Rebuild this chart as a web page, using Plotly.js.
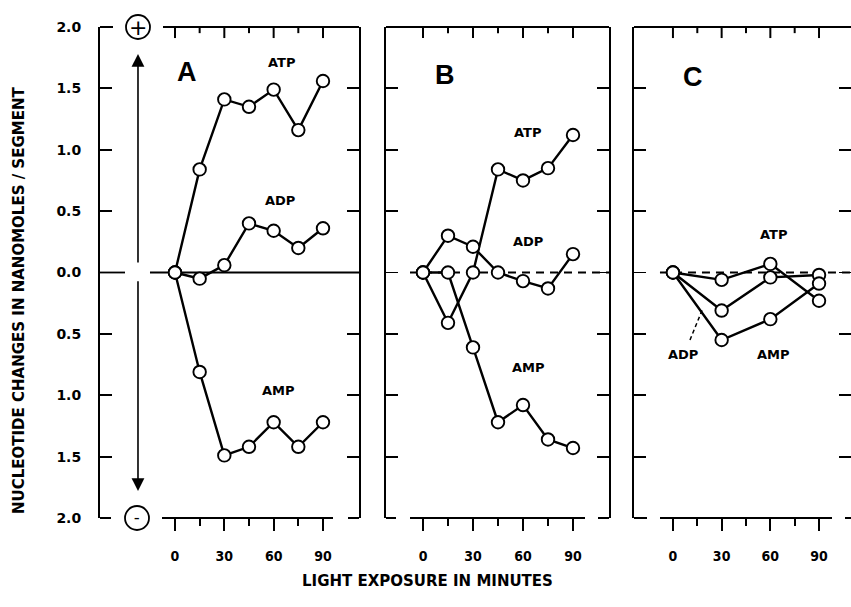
<!DOCTYPE html>
<html>
<head>
<meta charset="utf-8">
<script src="https://cdn.plot.ly/plotly-3.0.1.min.js"></script>
<style>
  html, body { margin: 0; padding: 0; background: #fff; }
  #chart { width: 851px; height: 607px; }
</style>
</head>
<body>
<div id="chart"></div>
<script>
// ---- data ----
const minutesAB = [0, 15, 30, 45, 60, 75, 90];
const minutesC = [0, 30, 60, 90];

const atpA = [0, 0.84, 1.41, 1.35, 1.49, 1.16, 1.56];
const adpA = [0, -0.05, 0.06, 0.40, 0.34, 0.20, 0.36];
const ampA = [0, -0.81, -1.49, -1.42, -1.22, -1.42, -1.22];

const atpB = [0, -0.41, 0.00, 0.84, 0.75, 0.85, 1.12];
const adpB = [0, 0.30, 0.21, 0.00, -0.07, -0.13, 0.15];
const ampB = [0, 0.00, -0.61, -1.22, -1.08, -1.36, -1.43];

const atpC = [0, -0.06, 0.07, -0.23];
const adpC = [0, -0.31, -0.04, -0.02];
const ampC = [0, -0.55, -0.38, -0.09];

const yTickVals = [-2, -1.5, -1, -0.5, 0, 0.5, 1, 1.5, 2];
const yTickText = ['2.0', '1.5', '1.0', '0.5', '0.0', '0.5', '1.0', '1.5', '2.0'];
const xTickVals = [0, 30, 60, 90];
const xTickText = ['0', '30', '60', '90'];
const xMinorVals = [15, 45, 75];

const panelLetters = ['A', 'B', 'C'];
const seriesNames = ['ATP', 'ADP', 'AMP'];
const xTitle = 'LIGHT EXPOSURE IN MINUTES';
const yTitle = 'NUCLEOTIDE CHANGES IN NANOMOLES / SEGMENT';

// ---- helpers ----
const W = 851, H = 607;
const px = v => v / W;
const py = v => 1 - v / H;

const lineStyle = { color: '#000', width: 2.4 };
const markerStyle = { symbol: 'circle', size: 12.5, color: '#fff', line: { color: '#000', width: 1.9 } };

function series(x, y, xa, ya, name) {
  return { x: x, y: y, xaxis: xa, yaxis: ya, name: name, type: 'scatter', mode: 'lines+markers',
           line: lineStyle, marker: markerStyle, showlegend: false, hoverinfo: 'skip', cliponaxis: false };
}

const data = [
  series(minutesAB, atpA, 'x', 'y', 'ATP'),
  series(minutesAB, adpA, 'x', 'y', 'ADP'),
  series(minutesAB, ampA, 'x', 'y', 'AMP'),
  series(minutesAB, atpB, 'x2', 'y2', 'ATP'),
  series(minutesAB, adpB, 'x2', 'y2', 'ADP'),
  series(minutesAB, ampB, 'x2', 'y2', 'AMP'),
  series(minutesC, atpC, 'x3', 'y3', 'ATP'),
  series(minutesC, adpC, 'x3', 'y3', 'ADP'),
  series(minutesC, ampC, 'x3', 'y3', 'AMP')
];

const tickFontY = { family: 'DejaVu Sans', size: 14, color: '#000', weight: 'bold' };
const tickFontX = { family: 'DejaVu Sans Condensed, DejaVu Sans', size: 14, color: '#000', weight: 'bold' };

const rangeA = [-45.6, 111.9];
const rangeB = [-22.2, 111.6];
const rangeC = [-24.0, 109.7];
const domA = [px(100), px(359)];
const domB = [px(386), px(609)];
const domC = [px(634), 1];
const domY = [py(518), py(27)];

function xBottom(range, dom, anchor) {
  return {
    domain: dom, range: range, anchor: anchor, showgrid: false, zeroline: false, showline: false,
    tickmode: 'array', tickvals: xTickVals, ticktext: xTickText,
    ticks: 'outside', ticklen: 12, tickwidth: 1.8, tickcolor: '#000',
    ticklabelstandoff: 13, tickfont: tickFontX,
    minor: { tickmode: 'array', tickvals: xMinorVals, ticks: 'outside', ticklen: 7, tickwidth: 1.8, tickcolor: '#000', showgrid: false },
    fixedrange: true
  };
}
function yAxis(anchor, labels) {
  return {
    domain: domY, range: [-2, 2], anchor: anchor, showgrid: false, zeroline: false,
    showline: true, linecolor: '#000', linewidth: 2, mirror: 'ticks',
    tickmode: 'array', tickvals: yTickVals, ticktext: yTickText, showticklabels: labels,
    ticks: 'inside', ticklen: 12, tickwidth: 1.8, tickcolor: '#000',
    ticklabelstandoff: 14, tickfont: tickFontY, fixedrange: true
  };
}

function seg(x0, y0, x1, y1) {
  return { type: 'line', xref: 'paper', yref: 'paper', x0: px(x0), y0: py(y0), x1: px(x1), y1: py(y1),
           line: { color: '#000', width: 2 } };
}

const shapes = [
  // panel A frame: top and bottom with gaps
  seg(100, 27, 113, 27), seg(163, 27, 359, 27),
  seg(100, 518, 111, 518), seg(162, 518, 333, 518), seg(348, 518, 359, 518),
  // panel B
  seg(386, 27, 609, 27),
  seg(386, 518, 396, 518), seg(410, 518, 585, 518), seg(598, 518, 609, 518),
  // panel C
  seg(634, 27, 851, 27),
  seg(634, 518, 647, 518), seg(660, 518, 832, 518), seg(845, 518, 851, 518),
  // zero reference lines
  { type: 'line', xref: 'x', yref: 'y', x0: rangeA[0], x1: -30.4, y0: 0, y1: 0, layer: 'below', line: { color: '#000', width: 1.8 } },
  { type: 'line', xref: 'x', yref: 'y', x0: -15.2, x1: rangeA[1], y0: 0, y1: 0, layer: 'below', line: { color: '#000', width: 1.8 } },
  { type: 'line', xref: 'x2', yref: 'y2', x0: -7.8, x1: rangeB[1], y0: 0, y1: 0, layer: 'below', line: { color: '#000', width: 1.8, dash: '8px,6px' } },
  { type: 'line', xref: 'x3', yref: 'y3', x0: -8, x1: rangeC[1], y0: 0, y1: 0, layer: 'below', line: { color: '#000', width: 1.8, dash: '8px,6px' } },
  // plus / minus circles in panel A (paper refs so they are not clipped)
  { type: 'circle', xref: 'paper', yref: 'paper', xsizemode: 'pixel', ysizemode: 'pixel', xanchor: px(138), yanchor: py(27),
    x0: -12, x1: 12, y0: -12, y1: 12, fillcolor: '#fff', line: { color: '#000', width: 1.8 } },
  { type: 'circle', xref: 'paper', yref: 'paper', xsizemode: 'pixel', ysizemode: 'pixel', xanchor: px(137), yanchor: py(518),
    x0: -12, x1: 12, y0: -12, y1: 12, fillcolor: '#fff', line: { color: '#000', width: 1.8 } },
  // ADP leader in panel C
  { type: 'line', xref: 'x3', yref: 'y3', x0: 10.5, y0: -0.55, x1: 18.5, y1: -0.29, line: { color: '#000', width: 1.5, dash: '4px,3px' } }
];

// top tick marks (pointing down into each panel), placed through each panel's own scales
[['x', 'y'], ['x2', 'y2'], ['x3', 'y3']].forEach(function (ax) {
  xTickVals.forEach(function (v) {
    shapes.push({ type: 'line', xref: ax[0], yref: ax[1], x0: v, x1: v, y0: 2, y1: 1.91,
                  line: { color: '#000', width: 2 } });
  });
  xMinorVals.forEach(function (v) {
    shapes.push({ type: 'line', xref: ax[0], yref: ax[1], x0: v, x1: v, y0: 2, y1: 1.95,
                  line: { color: '#000', width: 2 } });
  });
});

const labFont = { family: 'DejaVu Sans', size: 13, color: '#000', weight: 'bold' };
const bigFont = { family: 'Liberation Sans, Arial, sans-serif', size: 27, color: '#000', weight: 'bold' };
function lab(text, xa, ya, x, y, font) {
  return { text: text, xref: xa, yref: ya, x: x, y: y, showarrow: false, font: font || labFont, xanchor: 'center', yanchor: 'middle' };
}

const annotations = [
  lab(panelLetters[0], 'x', 'y', 7.3, 1.63, bigFont),
  lab(panelLetters[1], 'x2', 'y2', 13.2, 1.61, bigFont),
  lab(panelLetters[2], 'x3', 'y3', 12.3, 1.59, bigFont),
  lab(seriesNames[0], 'x', 'y', 65, 1.71),
  lab(seriesNames[1], 'x', 'y', 64, 0.59),
  lab(seriesNames[2], 'x', 'y', 63, -0.96),
  lab(seriesNames[0], 'x2', 'y2', 62.4, 1.14),
  lab(seriesNames[1], 'x2', 'y2', 63, 0.25),
  lab(seriesNames[2], 'x2', 'y2', 63, -0.77),
  lab(seriesNames[0], 'x3', 'y3', 61.7, 0.31),
  lab(seriesNames[1], 'x3', 'y3', 6.2, -0.67),
  lab(seriesNames[2], 'x3', 'y3', 61.7, -0.67),
  { text: '+', xref: 'paper', yref: 'paper', x: px(138), y: py(27.5), showarrow: false, xanchor: 'center', yanchor: 'middle',
    font: { family: 'DejaVu Sans', size: 22, color: '#000' } },
  { text: '–', xref: 'paper', yref: 'paper', x: px(137), y: py(518), showarrow: false, xanchor: 'center', yanchor: 'middle',
    font: { family: 'DejaVu Sans', size: 11, color: '#000', weight: 'bold' } },
  { xref: 'x', yref: 'y', axref: 'x', ayref: 'y', x: -22.5, y: 1.78, ax: -22.5, ay: 0.07, text: '',
    showarrow: true, arrowhead: 2, arrowsize: 1.6, arrowwidth: 1.6, arrowcolor: '#000' },
  { xref: 'x', yref: 'y', axref: 'x', ayref: 'y', x: -22.5, y: -1.78, ax: -22.5, ay: -0.06, text: '',
    showarrow: true, arrowhead: 2, arrowsize: 1.6, arrowwidth: 1.6, arrowcolor: '#000' },
  { text: xTitle, xref: 'paper', yref: 'paper', x: px(427), y: py(581), showarrow: false,
    xanchor: 'center', yanchor: 'middle', font: { family: 'DejaVu Sans', size: 15, color: '#000', weight: 'bold' } },
  { text: yTitle, xref: 'paper', yref: 'paper', x: px(19), y: py(301), showarrow: false, textangle: -90,
    xanchor: 'center', yanchor: 'middle', font: { family: 'DejaVu Sans', size: 15, color: '#000', weight: 'bold' } }
];

const layout = {
  width: W, height: H,
  margin: { l: 0, r: 0, t: 0, b: 0, pad: 0 },
  paper_bgcolor: '#fff', plot_bgcolor: 'rgba(0,0,0,0)',
  showlegend: false,
  xaxis: xBottom(rangeA, domA, 'y'),
  xaxis2: xBottom(rangeB, domB, 'y2'),
  xaxis3: xBottom(rangeC, domC, 'y3'),
  yaxis: yAxis('x', true),
  yaxis2: yAxis('x2', false),
  yaxis3: yAxis('x3', false),
  shapes: shapes,
  annotations: annotations
};

Plotly.newPlot('chart', data, layout, { displayModeBar: false, staticPlot: true });
</script>
</body>
</html>
